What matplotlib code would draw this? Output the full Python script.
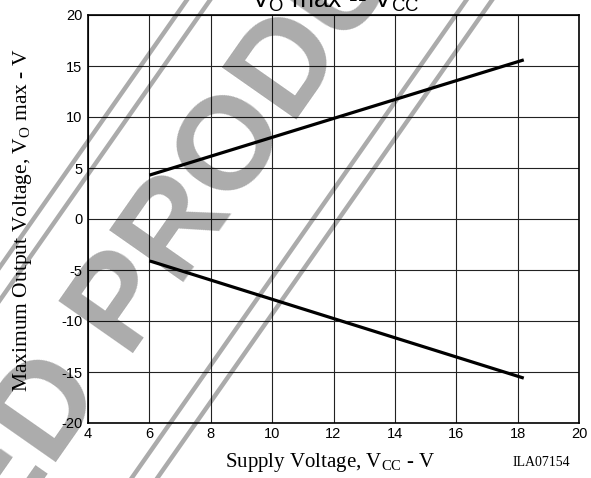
import numpy as np
import matplotlib
matplotlib.use("Agg")
import matplotlib.pyplot as plt
from matplotlib.lines import Line2D

plt.rcParams['mathtext.fontset'] = 'custom'
plt.rcParams['mathtext.rm'] = 'Liberation Serif'
plt.rcParams['mathtext.sf'] = 'Liberation Sans'

# ---- data ----
vcc = [6.0, 18.2]
vo_max_pos = [4.3, 15.6]
vo_max_neg = [-4.1, -15.6]
x_ticks = [4, 6, 8, 10, 12, 14, 16, 18, 20]
y_ticks = [-20, -15, -10, -5, 0, 5, 10, 15, 20]

W, H = 591, 478
fig = plt.figure(figsize=(W / 100, H / 100), dpi=100)
ax = fig.add_axes([88 / W, 1 - 423 / H, (579 - 88) / W, 408 / H])

ax.plot(vcc, vo_max_pos, color='black', lw=2.3, solid_capstyle='butt', zorder=3)
ax.plot(vcc, vo_max_neg, color='black', lw=2.3, solid_capstyle='butt', zorder=3)

ax.set_xlim(4, 20)
ax.set_ylim(-20, 20)
ax.set_xticks(x_ticks)
ax.set_yticks(y_ticks)
ax.set_xticklabels([str(t) for t in x_ticks], fontfamily='Liberation Sans', fontsize=10.5)
ax.set_yticklabels([str(t) for t in y_ticks], fontfamily='Liberation Sans', fontsize=10.5)
ax.tick_params(length=0, pad=4)
ax.tick_params(axis='x', pad=3)
ax.grid(True, color='#222222', lw=0.8)
for s in ax.spines.values():
    s.set_linewidth(1.2)
    s.set_color('black')

fig.text(330 / W, 1 - 463 / H, r"Supply Voltage, V$_\mathrm{CC}$ - V",
         fontfamily='Liberation Serif', fontsize=15, ha='center', va='center')
fig.text(23 / W, 1 - 220 / H, r"Maximum Output Voltage, V$_\mathrm{O}$ max - V",
         fontfamily='Liberation Serif', fontsize=15.5, ha='center', va='center',
         rotation=90)
fig.text(541 / W, 1 - 463 / H, "ILA07154", fontfamily='Liberation Serif',
         fontsize=10, ha='center', va='center')
fig.text(335 / W, 1 - 7 / H, r"V$_\mathsf{O}$ max -- V$_\mathsf{CC}$",
         fontfamily='Liberation Sans', fontsize=19, ha='center', va='baseline')

# ---- watermark (decorative) ----
ang = np.deg2rad(55)
u = np.array([np.cos(ang), -np.sin(ang)])      # baseline direction (pixel, y down)
v = np.array([-np.sin(ang), -np.cos(ang)])     # "up" direction
anchor0 = np.array([125.0, 376.0])
anchor = anchor0 + 18 * u + 14 * v
wm_color = (0, 0, 0, 0.33)
em = 132.0

def px2fig(p):
    return p[0] / W, 1 - p[1] / H

ax_pt = px2fig(anchor)
fig.text(ax_pt[0], ax_pt[1], "PRODUCT", fontfamily='Liberation Sans',
         fontweight='bold', fontsize=95, color=wm_color, rotation=55,
         rotation_mode='anchor', ha='left', va='baseline', zorder=10)
a2 = anchor - 0.278 * em * u
a2f = px2fig(a2)
fig.text(a2f[0], a2f[1], "DISCONTINUED", fontfamily='Liberation Sans',
         fontweight='bold', fontsize=95, color=wm_color, rotation=55,
         rotation_mode='anchor', ha='right', va='baseline', zorder=10)

for d in [165, 146, -64, -85]:
    c = anchor0 + d * v
    p1 = c - 1200 * u
    p2 = c + 1200 * u
    f1, f2 = px2fig(p1), px2fig(p2)
    fig.add_artist(Line2D([f1[0], f2[0]], [f1[1], f2[1]], transform=fig.transFigure,
                          color=wm_color, lw=3.2, zorder=10))

fig.savefig("out.png", dpi=100)
